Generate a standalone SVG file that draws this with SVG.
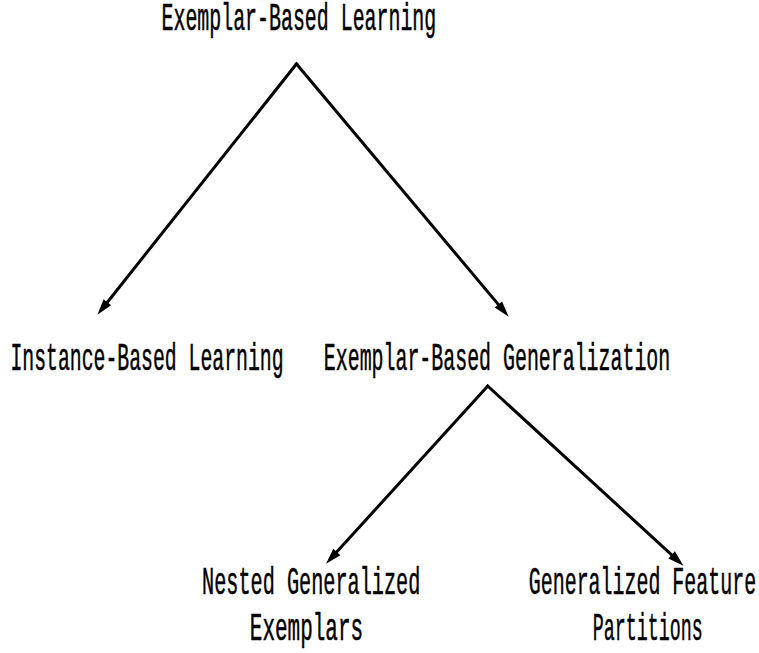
<svg xmlns="http://www.w3.org/2000/svg" width="759" height="653" viewBox="0 0 759 653">
<style>
  text { font-family: "Liberation Mono", "DejaVu Sans Mono", monospace; font-size: 38px; fill: #000; stroke: #000; stroke-width: 0.5; }
  .edge { fill: none; stroke: #000; stroke-width: 3; stroke-linecap: butt; marker-end: url(#arrow); }
</style>
<defs>
  <marker id="arrow" markerUnits="userSpaceOnUse" markerWidth="24" markerHeight="24" refX="7" refY="0" orient="auto" overflow="visible">
    <path d="M0,-4.8 L16,0 L0,4.8 Z" fill="#000"/>
  </marker>
</defs>
<rect width="759" height="653" fill="#fff"/>
<g id="connectors">
  <path class="edge" d="M297.4,62.8 L103,307.7"/>
  <path class="edge" d="M295.5,62.8 L502.9,309.9"/>
  <path class="edge" d="M488.7,384.9 L332.1,557.1"/>
  <path class="edge" d="M486.6,385 L676.8,559.6"/>
</g>
<g id="n-ebl"><text transform="translate(161.5,30) scale(0.524,1)">Exemplar-Based Learning</text></g>
<g id="n-ibl"><text transform="translate(10.5,370) scale(0.521,1)">Instance-Based Learning</text></g>
<g id="n-ebg"><text transform="translate(323.8,370) scale(0.524,1)">Exemplar-Based Generalization</text></g>
<g id="n-nge">
  <text transform="translate(202,593.5) scale(0.532,1)">Nested Generalized</text>
  <text transform="translate(249.8,640) scale(0.552,1)">Exemplars</text>
</g>
<g id="n-gfp">
  <text transform="translate(528.8,593.5) scale(0.525,1)">Generalized Feature</text>
  <text transform="translate(592.8,640) scale(0.482,1)">Partitions</text>
</g>
</svg>
